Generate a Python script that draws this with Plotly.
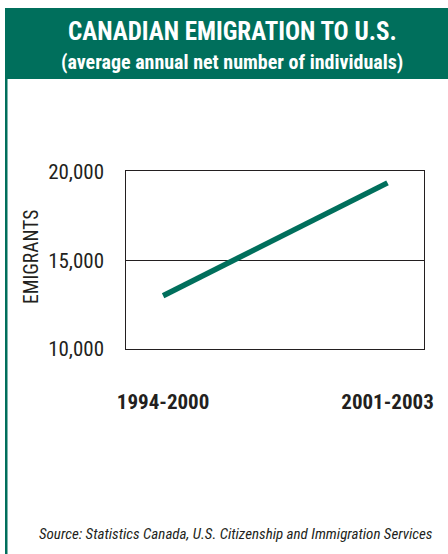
import plotly.graph_objects as go

periods = ["1994-2000", "2001-2003"]
emigrants = [13000, 19350]
y_ticks = [10000, 15000, 20000]
y_tick_labels = ["10,000", "15,000", "20,000"]

GREEN = "#006f5c"
W, H = 448, 554
NARROW = "Liberation Sans Narrow, Arial Narrow, Roboto Condensed, sans-serif"

def px_x(x):
    return x / W

def px_y(y):
    return 1 - y / H

fig = go.Figure()
fig.add_trace(go.Scatter(
    x=periods, y=emigrants, mode="lines",
    line=dict(color=GREEN, width=5.5),
    hoverinfo="skip", showlegend=False,
))

fig.update_layout(
    template="none",
    width=W, height=H, autosize=False,
    margin=dict(l=0, r=0, t=0, b=0, pad=0, autoexpand=False),
    paper_bgcolor="white", plot_bgcolor="white",
    font=dict(family=NARROW, color="#231f20"),
    xaxis=dict(
        domain=[px_x(126.3), px_x(424.3)],
        type="category", range=[-0.164, 1.164],
        showgrid=False, zeroline=False, automargin=False,
        showline=True, mirror=True, linecolor="#231f20", linewidth=1,
        ticks="", ticklabelstandoff=34,
        tickfont=dict(family=NARROW, size=21, color="#231f20", weight="bold"),
        fixedrange=True,
    ),
    yaxis=dict(
        domain=[px_y(349), px_y(171.3)],
        range=[10000, 20000],
        tickvals=y_ticks, ticktext=y_tick_labels,
        showgrid=True, gridcolor="#231f20", gridwidth=1,
        zeroline=False, automargin=False,
        showline=True, mirror=True, linecolor="#231f20", linewidth=1,
        ticks="", ticklabelstandoff=17,
        tickfont=dict(family=NARROW, size=21, color="#231f20"),
        fixedrange=True,
    ),
    shapes=[
        dict(type="rect", xref="paper", yref="paper",
             x0=px_x(5), x1=1, y0=px_y(79), y1=px_y(8),
             fillcolor=GREEN, line=dict(width=0), layer="below"),
        dict(type="rect", xref="paper", yref="paper",
             x0=px_x(5), x1=px_x(7.5), y0=0, y1=px_y(79),
             fillcolor=GREEN, line=dict(width=0), layer="below"),
    ],
    annotations=[
        dict(text="CANADIAN EMIGRATION TO U.S.", xref="paper", yref="paper",
             x=px_x(232), y=px_y(31), xanchor="center", yanchor="middle",
             showarrow=False, font=dict(family=NARROW, size=25, color="white", weight="bold")),
        dict(text="(average annual net number of individuals)", xref="paper", yref="paper",
             x=px_x(232), y=px_y(62), xanchor="center", yanchor="middle",
             showarrow=False, font=dict(family=NARROW, size=20, color="white", weight="bold")),
        dict(text="EMIGRANTS", xref="paper", yref="paper",
             x=px_x(31.5), y=px_y(257.5), xanchor="center", yanchor="middle",
             textangle=-90, showarrow=False,
             font=dict(family=NARROW, size=19.5, color="#231f20")),
        dict(text="Source: Statistics Canada, U.S. Citizenship and Immigration Services",
             xref="paper", yref="paper",
             x=px_x(236), y=px_y(534), xanchor="center", yanchor="middle",
             showarrow=False,
             font=dict(family=NARROW, size=15, color="#231f20", style="italic")),
    ],
)

fig.write_html("out.html")
